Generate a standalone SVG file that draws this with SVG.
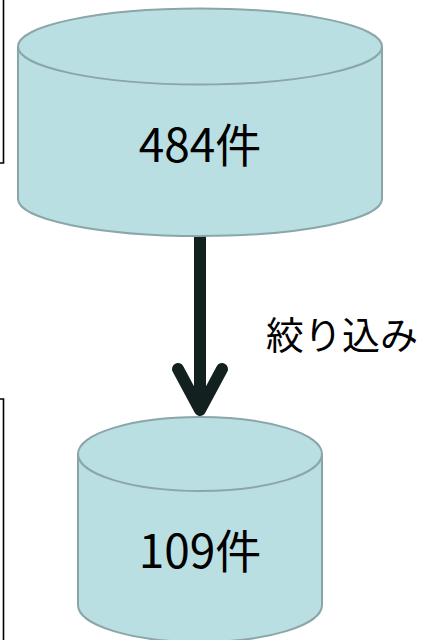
<svg xmlns="http://www.w3.org/2000/svg" width="421" height="640" viewBox="0 0 421 640">
<style>
.cyl{fill:#badfe2;stroke:#8ba6a8;stroke-width:2}
.lbl{font-family:"Noto Sans CJK JP","Noto Sans",sans-serif;fill:#000}
.frame{fill:none;stroke:#000;stroke-width:1.6}
.conn{fill:none;stroke:#132020;stroke-width:12;stroke-linejoin:round}
.head{fill:none;stroke:#132020;stroke-width:12;stroke-linecap:round;stroke-linejoin:round}
</style>
<g id="frames">
<path class="frame" d="M3.5,0 V163 H0"/>
<path class="frame" d="M0,399 H3.5 V640"/>
</g>
<g id="connectors">
<path class="conn" d="M200,230 V408"/>
<path class="head" d="M178,369 L200,410 L222,369"/>
<text class="lbl" x="266" y="349" font-size="38">絞り込み</text>
</g>
<g id="node-484">
<path class="cyl" d="M18,46.5 V199 A182,37 0 0 0 382,199 V46.5"/>
<ellipse class="cyl" cx="200" cy="46.5" rx="182" ry="38"/>
<text class="lbl" x="200" y="162" font-size="46" text-anchor="middle">484件</text>
</g>
<g id="node-109">
<path class="cyl" d="M78,454 V605 A122,37 0 0 0 322,605 V454"/>
<ellipse class="cyl" cx="200" cy="454" rx="122" ry="37"/>
<text class="lbl" x="200" y="568" font-size="46" text-anchor="middle">109件</text>
</g>
</svg>
